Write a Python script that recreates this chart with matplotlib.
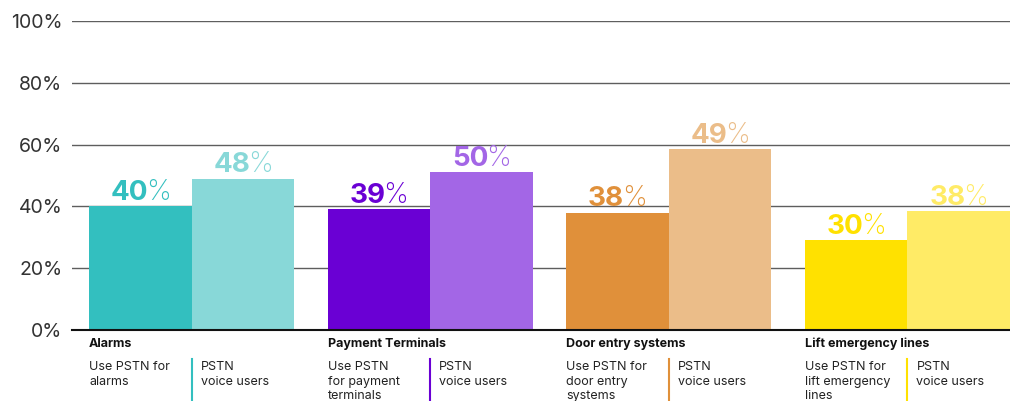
import matplotlib
matplotlib.use("Agg")
import matplotlib.pyplot as plt
from matplotlib.ticker import FuncFormatter

plt.rcParams['font.family'] = ['Inter', 'DejaVu Sans']

categories = ['Alarms', 'Payment Terminals', 'Door entry systems', 'Lift emergency lines']
left_labels = ['Use PSTN for\nalarms', 'Use PSTN\nfor payment\nterminals',
               'Use PSTN for\ndoor entry\nsystems', 'Use PSTN for\nlift emergency\nlines']
right_labels = ['PSTN\nvoice users'] * 4
# bar heights as drawn, and the value printed above each bar
use_pstn = [40, 39, 38, 29]
voice_users = [49, 51, 58.5, 38.5]
use_pstn_text = ['40', '39', '38', '30']
voice_users_text = ['48', '50', '49', '38']
dark_colors = ['#33BFBF', '#6A00D4', '#E0903A', '#FFE100']
light_colors = ['#88D8D8', '#A366E6', '#EBBD89', '#FFEB66']
yticks = [0, 20, 40, 60, 80, 100]

W = 0.43

fig = plt.figure(figsize=(10.1, 4.01), dpi=100)
ax = fig.add_axes([72 / 1010, 71 / 401, 938 / 1010, 309 / 401])
ax.set_xlim(-0.502, 3.43)
ax.set_ylim(0, 100)

x = range(len(categories))
ax.bar([i - W / 2 for i in x], use_pstn, width=W, color=dark_colors, zorder=2)
ax.bar([i + W / 2 for i in x], voice_users, width=W, color=light_colors, zorder=2)

ax.set_yticks(yticks)
ax.yaxis.set_major_formatter(FuncFormatter(lambda v, p: f'{v:.0f}%'))
ax.tick_params(axis='y', length=0, pad=7, labelsize=14, labelcolor='#333333')
ax.tick_params(axis='x', length=0, labelbottom=False)
ax.grid(axis='y', color='#5e5e5e', linewidth=1.0, zorder=0)
for s in ['top', 'right', 'left']:
    ax.spines[s].set_visible(False)
ax.spines['bottom'].set_color('#111111')
ax.spines['bottom'].set_linewidth(1.5)
ax.spines['bottom'].set_zorder(3)

fig.canvas.draw()
r = fig.canvas.get_renderer()


def value_label(xc, h, num, color):
    t1 = ax.annotate(num, xy=(xc, h), xytext=(0, 4.5), textcoords='offset points',
                     ha='left', va='baseline', fontsize=20, fontweight='bold', color=color)
    t2 = ax.annotate('%', xy=(xc, h), xytext=(0, 4.5), textcoords='offset points',
                     ha='left', va='baseline', fontsize=20, fontweight='light', color=color)
    w1 = t1.get_window_extent(r).width * 0.72 - 1.5
    w2 = t2.get_window_extent(r).width * 0.72
    start = -(w1 + w2) / 2
    t1.set_position((start, 4.5))
    t2.set_position((start + w1, 4.5))


for i in x:
    value_label(i - W / 2, use_pstn[i], use_pstn_text[i], dark_colors[i])
    value_label(i + W / 2, voice_users[i], voice_users_text[i], light_colors[i])
    left = i - W
    ax.annotate(categories[i], xy=(left, 0), xytext=(0, -14 * 0.72), textcoords='offset points',
                ha='left', va='center', fontsize=9, fontweight='bold', color='#111111',
                annotation_clip=False)
    ax.annotate(left_labels[i], xy=(left, 0), xytext=(0, -31 * 0.72), textcoords='offset points',
                ha='left', va='top', fontsize=9, color='#222222', linespacing=1.3,
                annotation_clip=False)
    ax.annotate(right_labels[i], xy=(i, 0), xytext=(9 * 0.72, -31 * 0.72), textcoords='offset points',
                ha='left', va='top', fontsize=9, color='#222222', linespacing=1.3,
                annotation_clip=False)
    ax.plot([i, i], [-9.4, -23], color=dark_colors[i], linewidth=1.5, clip_on=False)

fig.savefig('out.png', dpi=100)
